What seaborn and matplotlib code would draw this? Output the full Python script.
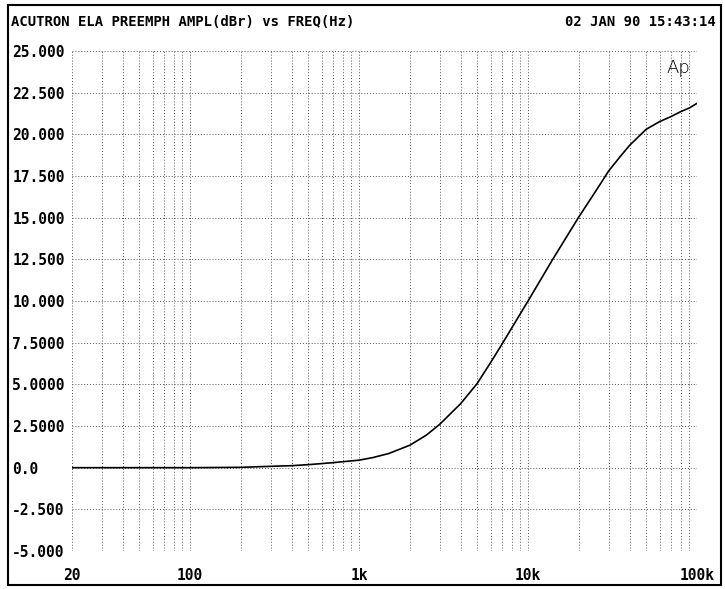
import matplotlib
matplotlib.use("Agg")
import matplotlib.pyplot as plt
import seaborn as sns
import pandas as pd
from matplotlib.patches import Rectangle

# ---- data ----
freq_hz = [20, 50, 100, 200, 300, 400, 500, 700, 1000, 1200, 1500, 2000, 2500, 3000,
           4000, 5000, 6000, 7000, 10000, 14000, 20000, 25000, 30000, 35000, 40000,
           50000, 60000, 70000, 80000, 90000, 100000]
ampl_dbr = [0.0, 0.0, 0.0, 0.02, 0.08, 0.12, 0.18, 0.30, 0.45, 0.60, 0.85, 1.35, 1.95, 2.6,
            3.85, 5.05, 6.3, 7.4, 10.0, 12.5, 15.05, 16.55, 17.8, 18.65, 19.35,
            20.3, 20.76, 21.06, 21.36, 21.58, 21.86]
y_ticks = [25, 22.5, 20, 17.5, 15, 12.5, 10, 7.5, 5, 2.5, 0, -2.5, -5]
y_tick_labels = ["25.000", "22.500", "20.000", "17.500", "15.000", "12.500", "10.000",
                 "7.5000", "5.0000", "2.5000", "0.0", "-2.500", "-5.000"]
x_ticks = [20, 100, 1000, 10000, 100000]
x_tick_labels = ["20", "100", "1k", "10k", "100k"]
title = "ACUTRON ELA PREEMPH AMPL(dBr) vs FREQ(Hz)"
stamp = "02 JAN 90 15:43:14"

df = pd.DataFrame({"freq": freq_hz, "ampl": ampl_dbr})

sns.set_style("white")
plt.rcParams["font.family"] = ["DejaVu Sans Mono", "DejaVu Sans"]
plt.rcParams["text.color"] = "black"
plt.rcParams["xtick.color"] = "black"
plt.rcParams["ytick.color"] = "black"

W, H = 725, 589
fig = plt.figure(figsize=(W / 100, H / 100), dpi=100)
ax = fig.add_axes([72 / W, 1 - 551 / H, (697 - 72) / W, (551 - 51) / H])

sns.lineplot(data=df, x="freq", y="ampl", ax=ax, color="black", linewidth=1.2)

ax.set_xscale("log")
ax.set_xlim(20, 100000)
ax.set_ylim(-5, 25)

# grid lines: every 2.5 dB, and 1-2-...-9 per decade
grid_kw = dict(color="0.35", linewidth=0.7, linestyle=(0, (1, 2)), zorder=0)
for y in y_ticks:
    ax.axhline(y, **grid_kw)
decades = [10, 100, 1000, 10000]
for d in decades:
    for m in range(1, 10):
        f = d * m
        if 20 <= f <= 100000:
            ax.axvline(f, **grid_kw)
ax.axvline(100000, **grid_kw)

for s in ax.spines.values():
    s.set_visible(False)

ax.set_yticks(y_ticks)
ax.set_yticklabels(y_tick_labels, fontsize=10.5, fontweight="bold", ha="left", color="black")
ax.set_xticks(x_ticks)
ax.set_xticklabels(x_tick_labels, fontsize=10.5, fontweight="bold", color="black")
ax.xaxis.set_minor_locator(matplotlib.ticker.NullLocator())
ax.tick_params(axis="y", length=0, pad=43)
ax.tick_params(axis="x", length=0, pad=12)
ax.set_xlabel("")
ax.set_ylabel("")

fig.text(11 / W, 1 - 22 / H, title, fontsize=10, fontweight="bold", ha="left", va="center",
         color="black")
fig.text(716 / W, 1 - 22 / H, stamp, fontsize=10, fontweight="bold", ha="right", va="center",
         color="black")
ax.text(0.970, 0.966, "Ap", transform=ax.transAxes, fontsize=13, ha="center", va="center",
        family="DejaVu Sans", fontweight="light", color="black")

fig.patches.append(Rectangle((8 / W, 1 - 585 / H), (721 - 8) / W, (585 - 5) / H,
                             transform=fig.transFigure, fill=False, edgecolor="black",
                             linewidth=1.5))

fig.savefig("out.png", dpi=100)
